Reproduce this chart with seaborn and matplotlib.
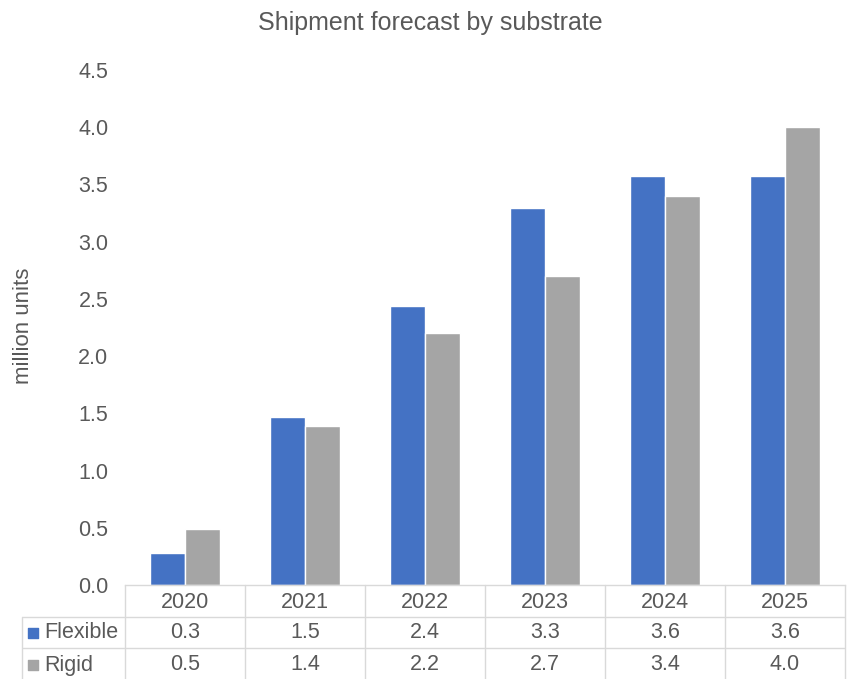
import pandas as pd
import matplotlib.pyplot as plt
import seaborn as sns

# ─── Data ─────────────────────────────────────────────────────────────
years = ["2020", "2021", "2022", "2023", "2024", "2025"]
flexible = [0.28, 1.47, 2.44, 3.29, 3.57, 3.57]
rigid = [0.49, 1.39, 2.20, 2.70, 3.40, 4.00]
series = ["Flexible", "Rigid"]
y_ticks = [0.0, 0.5, 1.0, 1.5, 2.0, 2.5, 3.0, 3.5, 4.0, 4.5]

BLUE = "#4472C4"
GRAY = "#A5A5A5"
TEXT = "#595959"
LINE = "#D9D9D9"

W, H = 849, 679
FS = 15.5


def main():
    sns.set_theme(style="white")
    plt.rcParams['font.family'] = ['Liberation Sans', 'DejaVu Sans']

    df = pd.DataFrame({
        "year": years * 2,
        "value": flexible + rigid,
        "series": [series[0]] * len(years) + [series[1]] * len(years),
    })

    fig = plt.figure(figsize=(W / 100, H / 100), dpi=100)
    # main plot area: x 125..845 px, y 70..585 px
    ax = fig.add_axes([125 / W, (H - 585) / H, 720 / W, 515 / H])
    sns.barplot(data=df, x="year", y="value", hue="series", order=years,
                hue_order=series, palette=[BLUE, GRAY], width=0.58,
                gap=0, saturation=1, ax=ax, legend=False)
    ax.set_xlim(-0.5, len(years) - 0.5)
    ax.set_ylim(0, 4.5)
    ax.set_yticks(y_ticks)
    ax.set_yticklabels([f"{t:.1f}" for t in y_ticks], fontsize=FS, color=TEXT)
    ax.tick_params(axis="y", length=0, pad=12)
    ax.set_xticks([])
    ax.set_xlabel("")
    ax.set_ylabel("")
    fig.text(24 / W, 1 - 326 / H, "million units", rotation=90,
             ha="center", va="center", fontsize=16, color=TEXT)
    for s in ["top", "right", "left"]:
        ax.spines[s].set_visible(False)
    ax.spines["bottom"].set_color(LINE)
    ax.spines["bottom"].set_linewidth(1)
    fig.text(430 / W, 1 - 23 / H, "Shipment forecast by substrate",
             ha="center", va="center", fontsize=18, color=TEXT)

    # data table underneath: x 22..845 px, y 585..679 px
    tab = fig.add_axes([22 / W, 0, 823 / W, 94 / H])
    left = -0.5 - 103 / 120
    tab.set_xlim(left, len(years) - 0.5)
    tab.set_ylim(94, 0)
    tab.axis("off")
    n = len(years)
    # grid lines
    for i in range(n + 1):
        tab.plot([i - 0.5, i - 0.5], [0, 94], color=LINE, lw=1, clip_on=False)
    tab.plot([left, left], [32, 94], color=LINE, lw=1, clip_on=False)
    for yy in [32, 63]:
        tab.plot([left, n - 0.5], [yy, yy], color=LINE, lw=1)
    # header row
    for i, yr in enumerate(years):
        tab.text(i, 17, yr, ha="center", va="center", fontsize=FS, color=TEXT)
    # series rows
    for r, (name, vals, col) in enumerate([(series[0], flexible, BLUE),
                                           (series[1], rigid, GRAY)]):
        yc = 48 + r * 32
        tab.scatter([left + 0.095], [yc], marker="s", s=58, color=col,
                    clip_on=False)
        tab.text(left + 0.185, yc, name, ha="left", va="center",
                 fontsize=FS, color=TEXT)
        for i, v in enumerate(vals):
            tab.text(i, yc, f"{v:.1f}", ha="center", va="center",
                     fontsize=FS, color=TEXT)

    fig.savefig("out.png", dpi=100)
    plt.close(fig)


if __name__ == "__main__":
    main()
